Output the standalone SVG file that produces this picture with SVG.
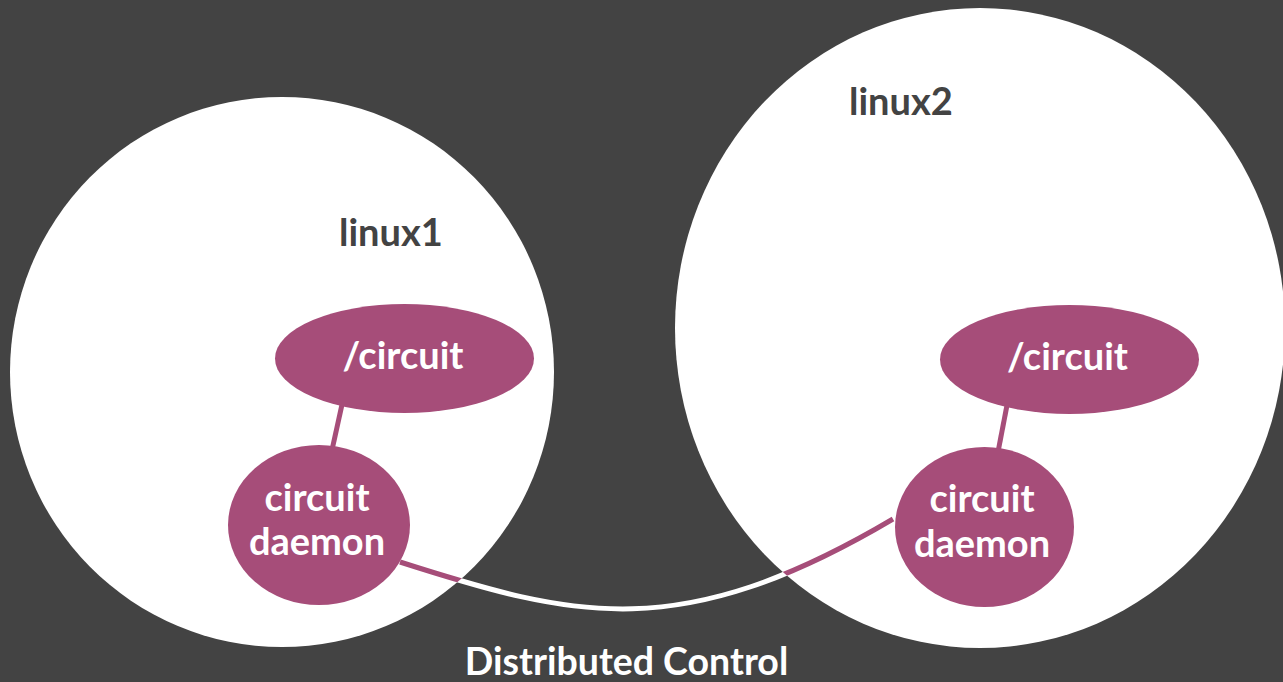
<svg xmlns="http://www.w3.org/2000/svg" width="1283" height="682" viewBox="0 0 1283 682">
  <style>
    .host { fill: #ffffff; }
    .proc { fill: #a64d79; }
    .host-label { font-family: Lato, "Liberation Sans", sans-serif; font-weight: bold; font-size: 38px; fill: #434343; }
    .proc-label { font-family: Lato, "Liberation Sans", sans-serif; font-weight: bold; font-size: 38px; fill: #ffffff; text-anchor: middle; }
    .caption { font-family: Lato, "Liberation Sans", sans-serif; font-weight: bold; font-size: 37.5px; fill: #ffffff; text-anchor: middle; }
    .link { fill: none; stroke: #a64d79; stroke-width: 5; }
    .link-out { fill: none; stroke: #ffffff; stroke-width: 5; }
  </style>
  <defs>
    <clipPath id="hosts">
      <ellipse cx="282" cy="372" rx="272" ry="275"/>
      <ellipse cx="980" cy="328" rx="305" ry="320"/>
    </clipPath>
  </defs>

  <rect x="0" y="0" width="1283" height="682" fill="#434343"/>

  <g id="linux1">
    <ellipse class="host" cx="282" cy="372" rx="272" ry="275"/>
    <text class="host-label" x="339" y="246">linux1</text>
  </g>

  <g id="linux2">
    <ellipse class="host" cx="980" cy="328" rx="305" ry="320"/>
    <text class="host-label" x="849" y="115">linux2</text>
  </g>

  <g id="connectors">
    <line class="link" x1="343" y1="400" x2="332" y2="450"/>
    <line class="link" x1="1008" y1="400" x2="998" y2="452"/>
    <!-- the daemon-to-daemon link: white across the gap, magenta inside each host -->
    <path class="link-out" d="M400,562 C575,618 680,645 893,519"/>
    <path class="link" clip-path="url(#hosts)" d="M400,562 C575,618 680,645 893,519"/>
  </g>

  <g id="circuit1">
    <ellipse class="proc" cx="404.5" cy="358.5" rx="129.5" ry="54.5"/>
    <text class="proc-label" x="403" y="369">/circuit</text>
  </g>

  <g id="daemon1">
    <ellipse class="proc" cx="319" cy="525" rx="91" ry="80"/>
    <text class="proc-label" x="317" y="511">circuit</text>
    <text class="proc-label" x="317" y="555">daemon</text>
  </g>

  <g id="circuit2">
    <ellipse class="proc" cx="1069.5" cy="359.5" rx="129.5" ry="54.5"/>
    <text class="proc-label" x="1067.5" y="370">/circuit</text>
  </g>

  <g id="daemon2">
    <ellipse class="proc" cx="984.5" cy="527" rx="89.5" ry="80"/>
    <text class="proc-label" x="982" y="512">circuit</text>
    <text class="proc-label" x="982" y="557">daemon</text>
  </g>

  <g id="caption">
    <text class="caption" x="626.5" y="675">Distributed Control</text>
  </g>
</svg>
